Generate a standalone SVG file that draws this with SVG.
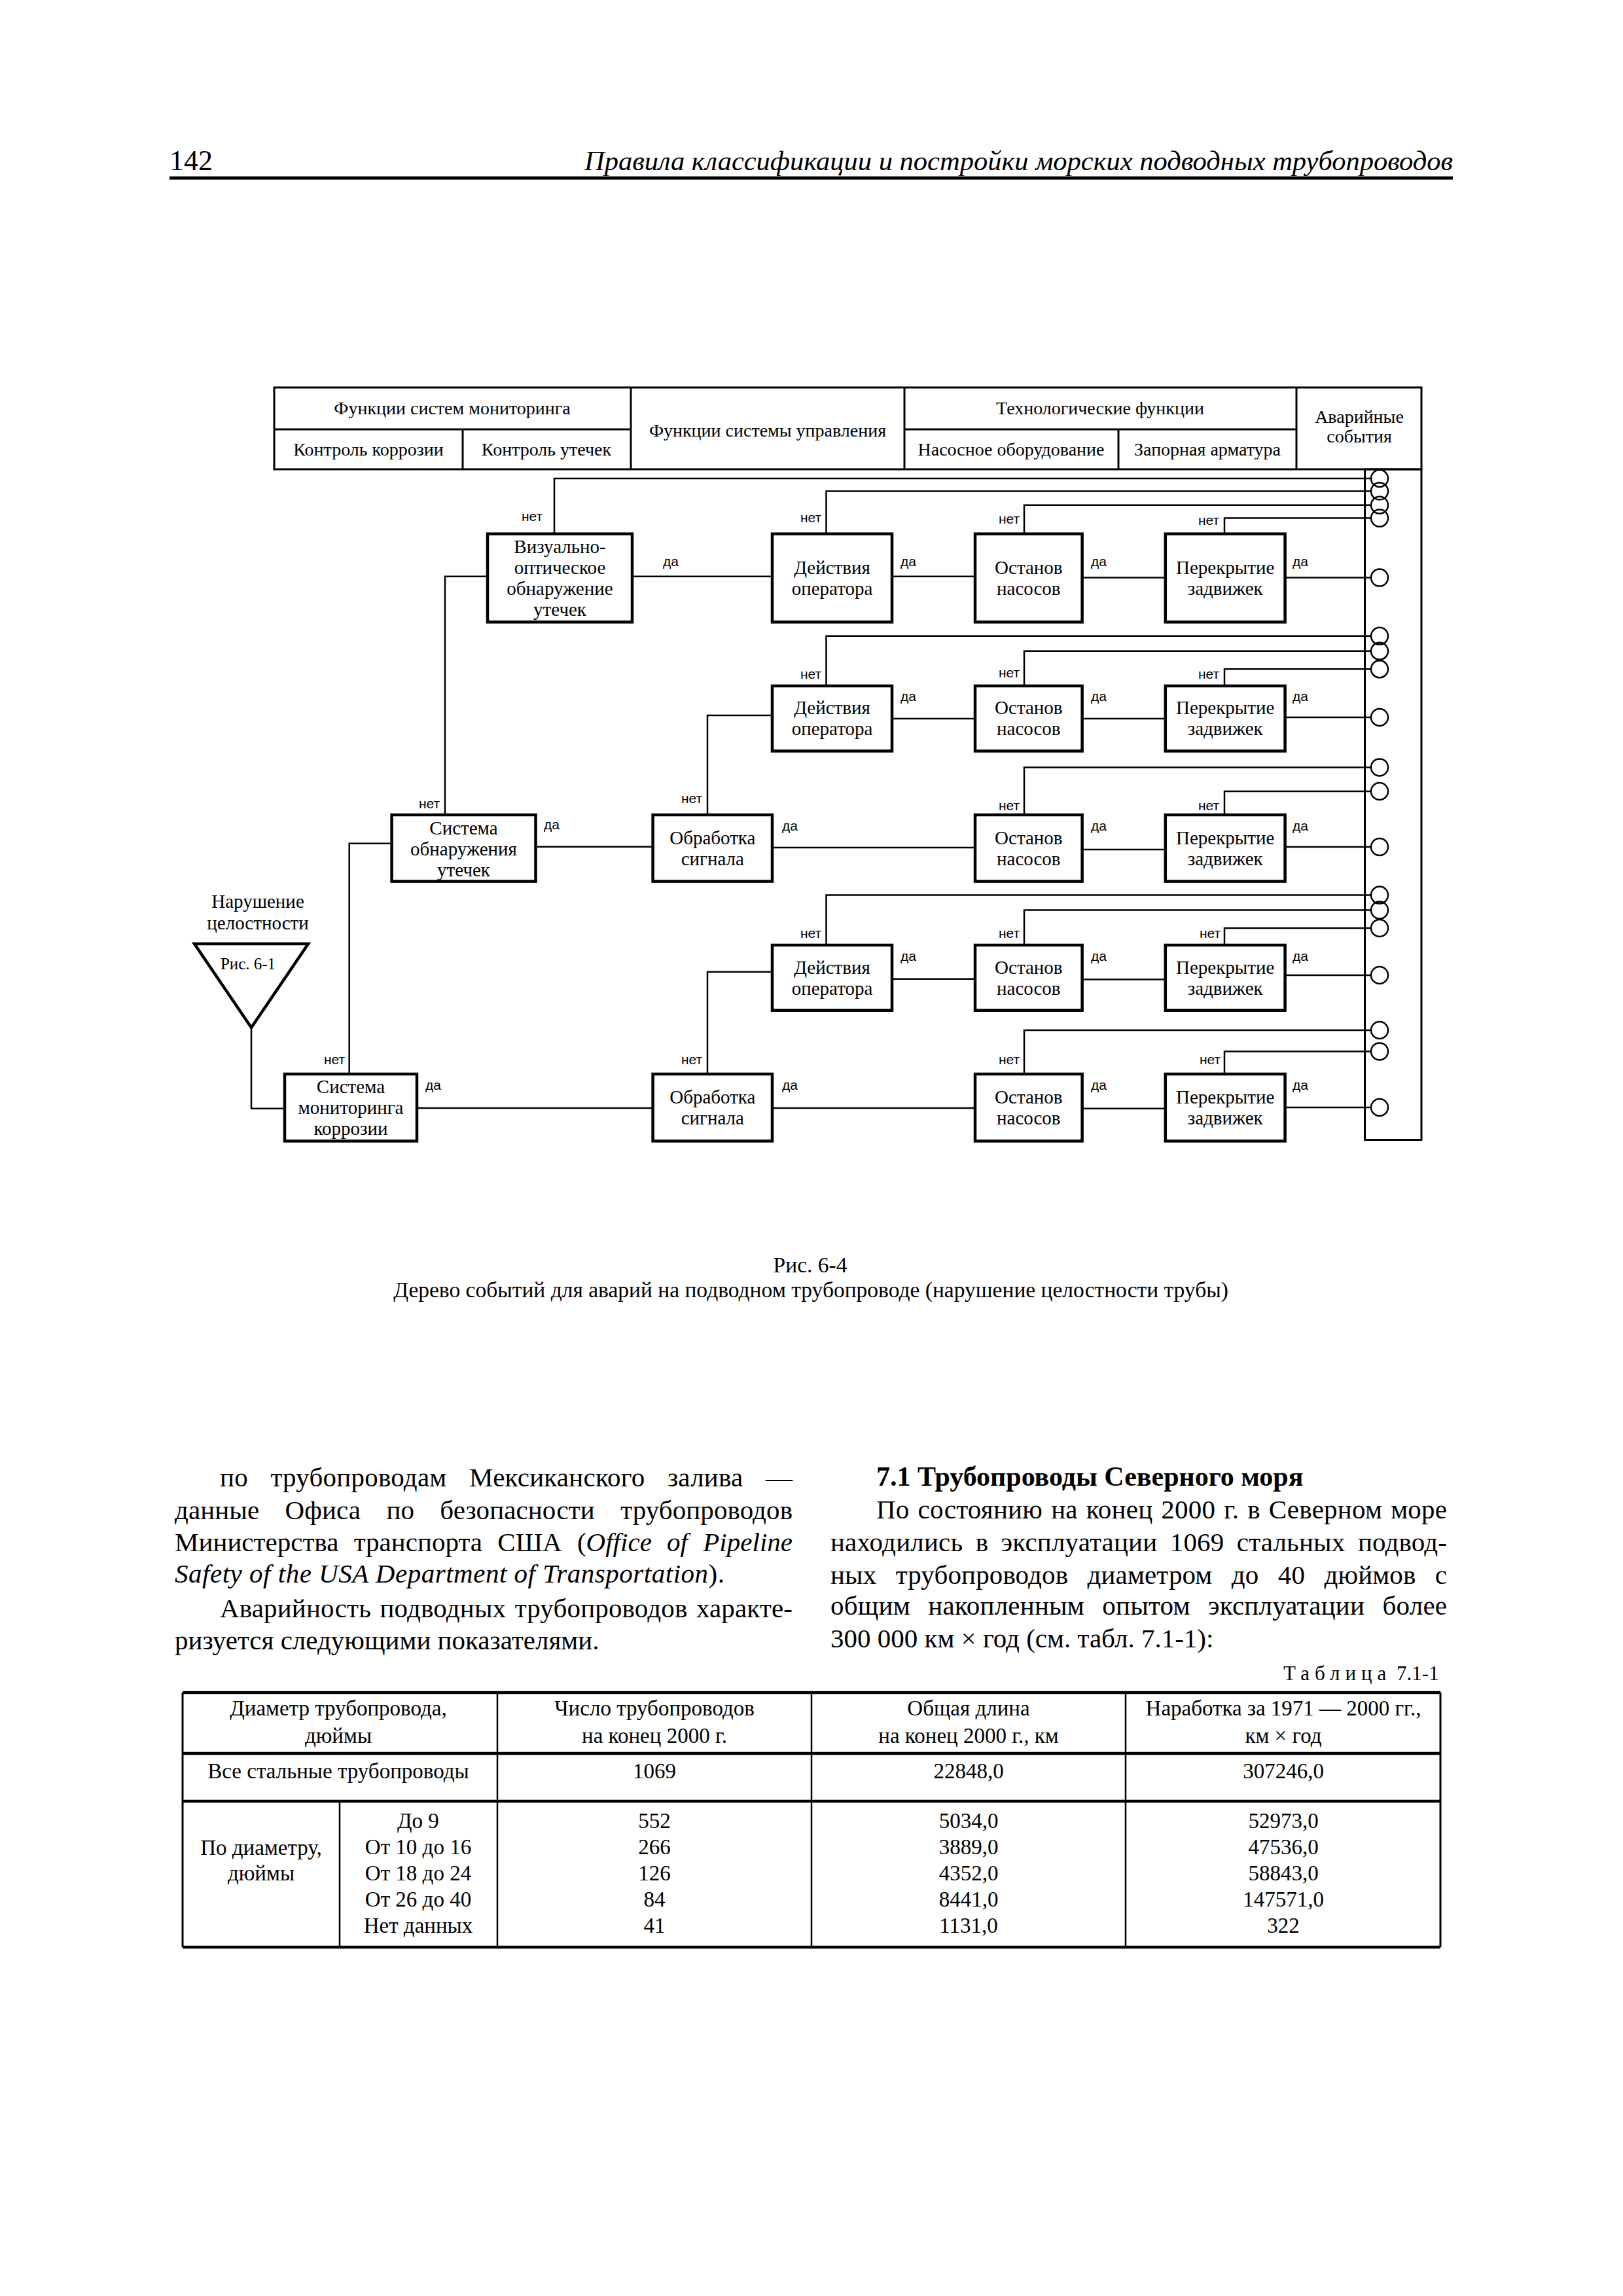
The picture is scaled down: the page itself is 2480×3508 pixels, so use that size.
<svg xmlns="http://www.w3.org/2000/svg" width="2480" height="3508" viewBox="0 0 2480 3508">
<defs>
<style>
.box{fill:none;stroke:#000;stroke-width:4.5}
.ln{fill:none;stroke:#000;stroke-width:2.5}
.tb{fill:none;stroke:#000;stroke-width:3}
.thk{fill:none;stroke:#000;stroke-width:4.5}
.ev{fill:none;stroke:#000;stroke-width:2.5}
.t{font-family:"Liberation Serif","Times New Roman",serif;font-size:29px;text-anchor:middle;fill:#000}
.h{font-family:"Liberation Serif","Times New Roman",serif;font-size:28px;text-anchor:middle;fill:#000}
.lab{font-family:"Liberation Sans",Arial,sans-serif;font-size:21px;fill:#000}
.body{font-family:"Liberation Serif","Times New Roman",serif;font-size:41px;fill:#000}
.cap{font-family:"Liberation Serif","Times New Roman",serif;font-size:33.5px;text-anchor:middle;fill:#000}
.tt{font-family:"Liberation Serif","Times New Roman",serif;font-size:33px;text-anchor:middle;fill:#000}
.it{font-style:italic}
</style>
</defs>
<rect width="2480" height="3508" fill="#fff"/>

<g id="page-header">
<text x="259" y="260" style="font-family:'Liberation Serif','Times New Roman',serif;font-size:44px">142</text>
<text x="2220" y="260" text-anchor="end" style="font-family:'Liberation Serif','Times New Roman',serif;font-size:42.5px;font-style:italic">Правила классификации и постройки морских подводных трубопроводов</text>
<line x1="259" y1="272" x2="2220" y2="272" stroke="#000" stroke-width="5"/>
</g>

<g id="header-table">
<rect x="419" y="592" width="1753" height="125" class="tb"/>
<line x1="419" y1="656" x2="964" y2="656" class="tb"/>
<line x1="1382" y1="656" x2="1981" y2="656" class="tb"/>
<line x1="964" y1="592" x2="964" y2="717" class="tb"/>
<line x1="1382" y1="592" x2="1382" y2="717" class="tb"/>
<line x1="1981" y1="592" x2="1981" y2="717" class="tb"/>
<line x1="707" y1="656" x2="707" y2="717" class="tb"/>
<line x1="1709" y1="656" x2="1709" y2="717" class="tb"/>
<text x="691" y="633" class="h">Функции систем мониторинга</text>
<text x="563" y="696" class="h">Контроль коррозии</text>
<text x="835" y="696" class="h">Контроль утечек</text>
<text x="1173" y="667" class="h">Функции системы управления</text>
<text x="1681" y="633" class="h">Технологические функции</text>
<text x="1545" y="696" class="h">Насосное оборудование</text>
<text x="1845" y="696" class="h">Запорная арматура</text>
<text x="2077" y="646" class="h">Аварийные</text>
<text x="2077" y="676" class="h">события</text>
</g>

<g id="connectors">
<path class="ln" d="M847,815.7 V731 H2095"/>
<path class="ln" d="M966,880.7 H1180"/>
<path class="ln" d="M745,880.7 H680 V1245"/>
<path class="ln" d="M1262.5,815.7 V750.6 H2095"/>
<path class="ln" d="M1363,880.7 H1490"/>
<path class="ln" d="M1565,815.7 V771.7 H2095"/>
<path class="ln" d="M1653.6,882.6 H1780.8"/>
<path class="ln" d="M1871,815.7 V791.6 H2095"/>
<path class="ln" d="M1963.6,882.6 H2095"/>
<path class="ln" d="M1081,1245 V1093 H1180"/>
<path class="ln" d="M1262.5,1048 V971.8 H2095"/>
<path class="ln" d="M1363,1098 H1490"/>
<path class="ln" d="M1565,1048 V994.8 H2095"/>
<path class="ln" d="M1653.6,1098 H1780.8"/>
<path class="ln" d="M1871,1048 V1022.3 H2095"/>
<path class="ln" d="M1963.6,1096 H2095"/>
<path class="ln" d="M818.5,1293.8 H997.6"/>
<path class="ln" d="M1180,1295 H1490"/>
<path class="ln" d="M1565,1245 V1172.4 H2095"/>
<path class="ln" d="M1653.6,1298 H1780.8"/>
<path class="ln" d="M1871,1245 V1209 H2095"/>
<path class="ln" d="M1963.6,1294 H2095"/>
<path class="ln" d="M1081,1641 V1485 H1180"/>
<path class="ln" d="M1262.5,1444 V1367.6 H2095"/>
<path class="ln" d="M1363,1495.8 H1490"/>
<path class="ln" d="M1565,1444 V1390.6 H2095"/>
<path class="ln" d="M1653.6,1496.6 H1780.8"/>
<path class="ln" d="M1871,1444 V1418 H2095"/>
<path class="ln" d="M1963.6,1490 H2095"/>
<path class="ln" d="M533.7,1641 V1288.8 H598.6"/>
<path class="ln" d="M637,1693 H997.6"/>
<path class="ln" d="M1180,1693 H1490"/>
<path class="ln" d="M1565,1641 V1574 H2095"/>
<path class="ln" d="M1653.6,1693.7 H1780.8"/>
<path class="ln" d="M1871,1641 V1606.4 H2095"/>
<path class="ln" d="M1963.6,1692 H2095"/>
<path class="ln" d="M384,1570 V1693.7 H435"/>
</g>

<g id="connector-labels">
<text class="lab" x="797" y="796">нет</text>
<text class="lab" x="1013" y="865">да</text>
<text class="lab" x="1223" y="798">нет</text>
<text class="lab" x="1376" y="865">да</text>
<text class="lab" x="1526" y="800">нет</text>
<text class="lab" x="1667" y="865">да</text>
<text class="lab" x="1831" y="802">нет</text>
<text class="lab" x="1975" y="865">да</text>
<text class="lab" x="1223" y="1037">нет</text>
<text class="lab" x="1376" y="1071">да</text>
<text class="lab" x="1526" y="1035">нет</text>
<text class="lab" x="1667" y="1071">да</text>
<text class="lab" x="1831" y="1037">нет</text>
<text class="lab" x="1975" y="1071">да</text>
<text class="lab" x="1041" y="1227">нет</text>
<text class="lab" x="640" y="1235">нет</text>
<text class="lab" x="831" y="1267">да</text>
<text class="lab" x="1195" y="1269">да</text>
<text class="lab" x="1526" y="1238">нет</text>
<text class="lab" x="1667" y="1269">да</text>
<text class="lab" x="1831" y="1238">нет</text>
<text class="lab" x="1975" y="1269">да</text>
<text class="lab" x="1223" y="1433">нет</text>
<text class="lab" x="1376" y="1468">да</text>
<text class="lab" x="1526" y="1433">нет</text>
<text class="lab" x="1667" y="1468">да</text>
<text class="lab" x="1833" y="1433">нет</text>
<text class="lab" x="1975" y="1468">да</text>
<text class="lab" x="495" y="1626">нет</text>
<text class="lab" x="650" y="1665">да</text>
<text class="lab" x="1041" y="1626">нет</text>
<text class="lab" x="1195" y="1665">да</text>
<text class="lab" x="1526" y="1626">нет</text>
<text class="lab" x="1667" y="1665">да</text>
<text class="lab" x="1833" y="1626">нет</text>
<text class="lab" x="1975" y="1665">да</text>
</g>

<g id="initiating-event">
<text x="394" y="1387" class="t">Нарушение</text>
<text x="394" y="1420" class="t">целостности</text>
<polygon points="297,1442 471,1442 384,1570" class="box"/>
<text x="379" y="1481" class="t" style="font-size:25px">Рис. 6-1</text>
</g>

<g id="node-visual"><rect x="745" y="815.7" width="221" height="134.7" class="box"/>
<text x="855.5" y="845" class="t">Визуально-</text><text x="855.5" y="877" class="t">оптическое</text><text x="855.5" y="909" class="t">обнаружение</text><text x="855.5" y="941" class="t">утечек</text></g>
<g id="node-operator-1"><rect x="1180" y="815.7" width="183" height="134.7" class="box"/>
<text x="1271.5" y="877" class="t">Действия</text><text x="1271.5" y="909" class="t">оператора</text></g>
<g id="node-pumps-1"><rect x="1490" y="815.7" width="163.6" height="134.7" class="box"/>
<text x="1571.8" y="877" class="t">Останов</text><text x="1571.8" y="909" class="t">насосов</text></g>
<g id="node-valves-1"><rect x="1780.8" y="815.7" width="182.8" height="134.7" class="box"/>
<text x="1872.2" y="877" class="t">Перекрытие</text><text x="1872.2" y="909" class="t">задвижек</text></g>

<g id="node-operator-2"><rect x="1180" y="1048" width="183" height="99.5" class="box"/>
<text x="1271.5" y="1091" class="t">Действия</text><text x="1271.5" y="1123" class="t">оператора</text></g>
<g id="node-pumps-2"><rect x="1490" y="1048" width="163.6" height="99.5" class="box"/>
<text x="1571.8" y="1091" class="t">Останов</text><text x="1571.8" y="1123" class="t">насосов</text></g>
<g id="node-valves-2"><rect x="1780.8" y="1048" width="182.8" height="99.5" class="box"/>
<text x="1872.2" y="1091" class="t">Перекрытие</text><text x="1872.2" y="1123" class="t">задвижек</text></g>

<g id="node-leak-detection"><rect x="598.6" y="1245" width="219.9" height="101.6" class="box"/>
<text x="708.5" y="1275" class="t">Система</text><text x="708.5" y="1307" class="t">обнаружения</text><text x="708.5" y="1339" class="t">утечек</text></g>
<g id="node-signal-1"><rect x="997.6" y="1245" width="182.4" height="101.6" class="box"/>
<text x="1088.8" y="1290" class="t">Обработка</text><text x="1088.8" y="1322" class="t">сигнала</text></g>
<g id="node-pumps-3"><rect x="1490" y="1245" width="163.6" height="101.6" class="box"/>
<text x="1571.8" y="1290" class="t">Останов</text><text x="1571.8" y="1322" class="t">насосов</text></g>
<g id="node-valves-3"><rect x="1780.8" y="1245" width="182.8" height="101.6" class="box"/>
<text x="1872.2" y="1290" class="t">Перекрытие</text><text x="1872.2" y="1322" class="t">задвижек</text></g>

<g id="node-operator-3"><rect x="1180" y="1444" width="183" height="99.7" class="box"/>
<text x="1271.5" y="1488" class="t">Действия</text><text x="1271.5" y="1520" class="t">оператора</text></g>
<g id="node-pumps-4"><rect x="1490" y="1444" width="163.6" height="99.7" class="box"/>
<text x="1571.8" y="1488" class="t">Останов</text><text x="1571.8" y="1520" class="t">насосов</text></g>
<g id="node-valves-4"><rect x="1780.8" y="1444" width="182.8" height="99.7" class="box"/>
<text x="1872.2" y="1488" class="t">Перекрытие</text><text x="1872.2" y="1520" class="t">задвижек</text></g>

<g id="node-corrosion-monitoring"><rect x="435" y="1641" width="202" height="102.4" class="box"/>
<text x="536" y="1670" class="t">Система</text><text x="536" y="1702" class="t">мониторинга</text><text x="536" y="1734" class="t">коррозии</text></g>
<g id="node-signal-2"><rect x="997.6" y="1641" width="182.4" height="102.4" class="box"/>
<text x="1088.8" y="1686" class="t">Обработка</text><text x="1088.8" y="1718" class="t">сигнала</text></g>
<g id="node-pumps-5"><rect x="1490" y="1641" width="163.6" height="102.4" class="box"/>
<text x="1571.8" y="1686" class="t">Останов</text><text x="1571.8" y="1718" class="t">насосов</text></g>
<g id="node-valves-5"><rect x="1780.8" y="1641" width="182.8" height="102.4" class="box"/>
<text x="1872.2" y="1686" class="t">Перекрытие</text><text x="1872.2" y="1718" class="t">задвижек</text></g>

<g id="node-outcomes">
<rect x="2085.5" y="717" width="86.5" height="1024.5" class="tb"/>
<circle cx="2108" cy="731" r="13" class="ev"/>
<circle cx="2108" cy="750.6" r="13" class="ev"/>
<circle cx="2108" cy="771.7" r="13" class="ev"/>
<circle cx="2108" cy="791.6" r="13" class="ev"/>
<circle cx="2108" cy="882.6" r="13" class="ev"/>
<circle cx="2108" cy="971.8" r="13" class="ev"/>
<circle cx="2108" cy="994.8" r="13" class="ev"/>
<circle cx="2108" cy="1022.3" r="13" class="ev"/>
<circle cx="2108" cy="1096" r="13" class="ev"/>
<circle cx="2108" cy="1172.4" r="13" class="ev"/>
<circle cx="2108" cy="1209" r="13" class="ev"/>
<circle cx="2108" cy="1294" r="13" class="ev"/>
<circle cx="2108" cy="1367.6" r="13" class="ev"/>
<circle cx="2108" cy="1390.6" r="13" class="ev"/>
<circle cx="2108" cy="1418" r="13" class="ev"/>
<circle cx="2108" cy="1490" r="13" class="ev"/>
<circle cx="2108" cy="1574" r="13" class="ev"/>
<circle cx="2108" cy="1606.4" r="13" class="ev"/>
<circle cx="2108" cy="1692" r="13" class="ev"/>
</g>

<g id="caption">
<text x="1238" y="1944" class="cap">Рис. 6-4</text>
<text x="1239" y="1982" class="cap">Дерево событий для аварий на подводном трубопроводе (нарушение целостности трубы)</text>
</g>

<g id="body-left">
<text class="body" x="336" y="2271" word-spacing="24" textLength="875" lengthAdjust="spacing">по трубопроводам Мексиканского залива —</text>
<text class="body" x="267" y="2321" word-spacing="29" textLength="944" lengthAdjust="spacing">данные Офиса по безопасности трубопроводов</text>
<text class="body" x="267" y="2370" word-spacing="13" textLength="944" lengthAdjust="spacing">Министерства транспорта США (<tspan class="it">Office of Pipeline</tspan></text>
<text class="body" x="267" y="2418" textLength="840" lengthAdjust="spacing"><tspan class="it">Safety of the USA Department of Transportation</tspan>).</text>
<text class="body" x="336" y="2471" word-spacing="3" textLength="875" lengthAdjust="spacing">Аварийность подводных трубопроводов характе-</text>
<text class="body" x="267" y="2520">ризуется следующими показателями.</text>
</g>

<g id="body-right">
<text class="body" x="1339" y="2270" font-weight="bold" style="font-size:42px">7.1 Трубопроводы Северного моря</text>
<text class="body" x="1339" y="2320" word-spacing="2.5" textLength="872" lengthAdjust="spacing">По состоянию на конец 2000 г. в Северном море</text>
<text class="body" x="1269" y="2370" word-spacing="9" textLength="942" lengthAdjust="spacing">находились в эксплуатации 1069 стальных подвод-</text>
<text class="body" x="1269" y="2420" word-spacing="19" textLength="942" lengthAdjust="spacing">ных трубопроводов диаметром до 40 дюймов с</text>
<text class="body" x="1269" y="2467" word-spacing="17" textLength="942" lengthAdjust="spacing">общим накопленным опытом эксплуатации более</text>
<text class="body" x="1269" y="2517">300 000 км × год (см. табл. 7.1-1):</text>
<text class="body" x="1961" y="2567" style="font-size:31px"><tspan letter-spacing="8">Таблица</tspan> 7.1-1</text>
</g>

<g id="data-table">
<line x1="279" y1="2586" x2="2201" y2="2586" class="thk"/>
<line x1="279" y1="2679" x2="2201" y2="2679" class="thk"/>
<line x1="279" y1="2752" x2="2201" y2="2752" class="thk"/>
<line x1="279" y1="2975" x2="2201" y2="2975" class="thk"/>
<line x1="279" y1="2586" x2="279" y2="2975" class="tb"/>
<line x1="2201" y1="2586" x2="2201" y2="2975" class="tb"/>
<line x1="760" y1="2586" x2="760" y2="2975" class="ln"/>
<line x1="1240" y1="2586" x2="1240" y2="2975" class="ln"/>
<line x1="1720" y1="2586" x2="1720" y2="2975" class="ln"/>
<line x1="519" y1="2752" x2="519" y2="2975" class="ln"/>
<text class="tt" x="517" y="2621">Диаметр трубопровода,</text>
<text class="tt" x="517" y="2663">дюймы</text>
<text class="tt" x="1000" y="2621">Число трубопроводов</text>
<text class="tt" x="1000" y="2663">на конец 2000 г.</text>
<text class="tt" x="1480" y="2621">Общая длина</text>
<text class="tt" x="1480" y="2663">на конец 2000 г., км</text>
<text class="tt" x="1961" y="2621">Наработка за 1971 — 2000 гг.,</text>
<text class="tt" x="1961" y="2663">км × год</text>
<text class="tt" x="517" y="2717">Все стальные трубопроводы</text>
<text class="tt" x="1000" y="2717">1069</text>
<text class="tt" x="1480" y="2717">22848,0</text>
<text class="tt" x="1961" y="2717">307246,0</text>
<text class="tt" x="399" y="2834">По диаметру,</text>
<text class="tt" x="399" y="2873">дюймы</text>
<text class="tt" x="639" y="2793">До 9</text>
<text class="tt" x="639" y="2833">От 10 до 16</text>
<text class="tt" x="639" y="2873">От 18 до 24</text>
<text class="tt" x="639" y="2913">От 26 до 40</text>
<text class="tt" x="639" y="2953">Нет данных</text>
<text class="tt" x="1000" y="2793">552</text>
<text class="tt" x="1000" y="2833">266</text>
<text class="tt" x="1000" y="2873">126</text>
<text class="tt" x="1000" y="2913">84</text>
<text class="tt" x="1000" y="2953">41</text>
<text class="tt" x="1480" y="2793">5034,0</text>
<text class="tt" x="1480" y="2833">3889,0</text>
<text class="tt" x="1480" y="2873">4352,0</text>
<text class="tt" x="1480" y="2913">8441,0</text>
<text class="tt" x="1480" y="2953">1131,0</text>
<text class="tt" x="1961" y="2793">52973,0</text>
<text class="tt" x="1961" y="2833">47536,0</text>
<text class="tt" x="1961" y="2873">58843,0</text>
<text class="tt" x="1961" y="2913">147571,0</text>
<text class="tt" x="1961" y="2953">322</text>
</g>
</svg>
